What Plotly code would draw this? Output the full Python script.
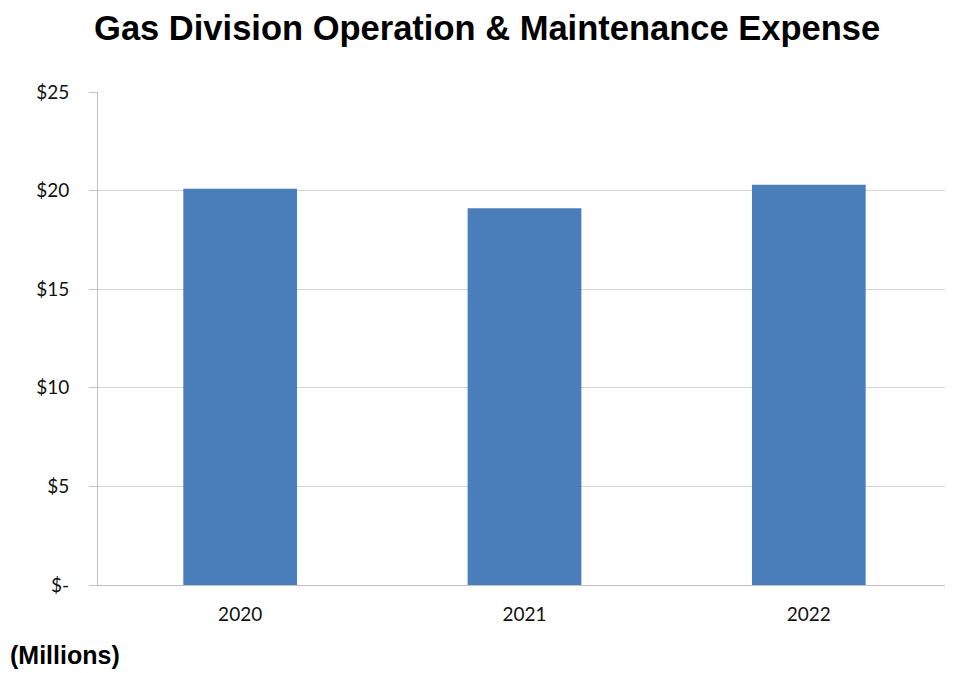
import plotly.graph_objects as go

years = ["2020", "2021", "2022"]
expense = [20.1, 19.1, 20.3]
y_tickvals = [0, 5, 10, 15, 20, 25]
y_ticktext = ["$-", "$5", "$10", "$15", "$20", "$25"]

fig = go.Figure()
fig.add_trace(go.Bar(
    x=years, y=expense,
    marker=dict(color="#4a7ebb", line=dict(width=0)),
    width=0.4,
))

fig.update_layout(
    width=945, height=665,
    paper_bgcolor="white", plot_bgcolor="white",
    margin=dict(l=90, r=2, t=84, b=88),
    showlegend=False,
    title=dict(
        text="<b>Gas Division Operation &amp; Maintenance Expense</b>",
        x=0.507, xanchor="center", y=0.97, yanchor="middle",
        font=dict(family="Liberation Sans, Arial, sans-serif", size=34.5, color="black"),
    ),
    font=dict(family="Lato, Open Sans, sans-serif", size=18, color="#222"),
)

fig.update_yaxes(
    range=[0, 25], tickvals=y_tickvals, ticktext=y_ticktext,
    showgrid=True, gridcolor="#d4d4d4", gridwidth=1,
    showline=True, linecolor="#bfbfbf", linewidth=1,
    ticks="outside", ticklen=8, tickcolor="#bfbfbf",
    ticklabelstandoff=16,
    zeroline=False, mirror=False,
    tickfont=dict(family="Lato, Open Sans, sans-serif", size=19, color="#111"),
)
fig.update_xaxes(
    showline=True, linecolor="#bfbfbf", linewidth=1,
    ticks="", showgrid=False, ticklabelstandoff=12,
    tickfont=dict(family="Lato, Open Sans, sans-serif", size=19, color="#111"),
)

fig.add_annotation(
    text="<b>(Millions)</b>", xref="paper", yref="paper",
    x=-0.106, y=-0.142, xanchor="left", yanchor="middle", showarrow=False,
    font=dict(family="Liberation Sans, Arial, sans-serif", size=25, color="black"),
)

fig.write_html("out.html")
